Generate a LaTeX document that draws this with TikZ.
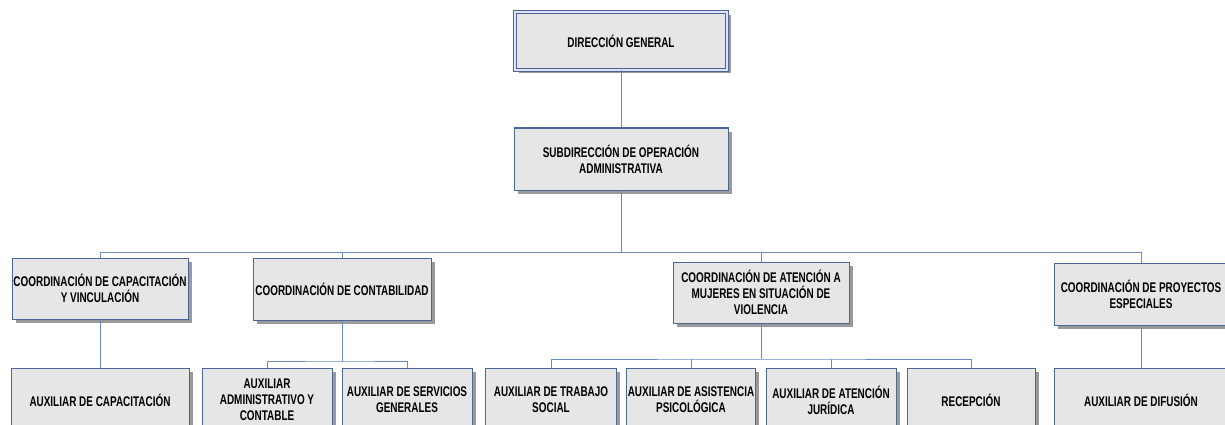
\documentclass[tikz,border=0pt]{standalone}
\usepackage{fontspec}
\setmainfont{Liberation Sans}[FakeStretch=0.71]
\usetikzlibrary{shadows}
\definecolor{bordc}{HTML}{4A6796}
\definecolor{linec}{HTML}{6A8CC0}
\definecolor{boxfill}{HTML}{E6E6E6}
\definecolor{shadc}{HTML}{9A9A9A}
\tikzset{
  orgbox/.style={draw=bordc, line width=1pt, fill=boxfill, align=center,
    inner sep=1pt, font=\fontsize{14}{16}\selectfont\bfseries,
    drop shadow={shadow xshift=3.5pt, shadow yshift=-3.5pt, fill=shadc, opacity=1}},
  topbox/.style={orgbox, double=blue!12!white, double distance=1.6pt},
  conn/.style={draw=linec, line width=1pt}
}
\begin{document}
\begin{tikzpicture}[x=1pt,y=-1pt]
\useasboundingbox (0,0) rectangle (1225,425);
\begin{scope}
\clip (0,0) rectangle (1225,425);
% level 0/1
\node[topbox, minimum width=212pt, minimum height=58pt] (dg) at (621,41) {DIRECCIÓN GENERAL};
\node[orgbox, minimum width=214pt, minimum height=62pt] (sub) at (621,159) {SUBDIRECCIÓN DE OPERACIÓN\\ADMINISTRATIVA};
% level 2
\node[orgbox, minimum width=176pt, minimum height=61pt] (c1) at (100,288.5) {COORDINACIÓN DE CAPACITACIÓN\\Y VINCULACIÓN};
\node[orgbox, minimum width=178pt, minimum height=62pt] (c2) at (342,289) {COORDINACIÓN DE CONTABILIDAD};
\node[orgbox, minimum width=176pt, minimum height=61pt] (c3) at (761,292.5) {COORDINACIÓN DE ATENCIÓN A\\MUJERES EN SITUACIÓN DE\\VIOLENCIA};
\node[orgbox, minimum width=174pt, minimum height=62pt] (c4) at (1141,294) {COORDINACIÓN DE PROYECTOS\\ESPECIALES};
% level 3
\node[orgbox, minimum width=178pt, minimum height=64pt] (a1) at (100,400) {AUXILIAR DE CAPACITACIÓN};
\node[orgbox, minimum width=130pt, minimum height=64pt] (a2) at (267,400) {AUXILIAR\\ADMINISTRATIVO Y\\CONTABLE};
\node[orgbox, minimum width=130pt, minimum height=64pt] (a3) at (407,400) {AUXILIAR DE SERVICIOS\\GENERALES};
\node[orgbox, minimum width=131pt, minimum height=64pt] (a4) at (551,400) {AUXILIAR DE TRABAJO\\SOCIAL};
\node[orgbox, minimum width=129pt, minimum height=64pt] (a5) at (691,400) {AUXILIAR DE ASISTENCIA\\PSICOLÓGICA};
\node[orgbox, minimum width=130pt, minimum height=64pt] (a6) at (831,400) {AUXILIAR DE ATENCIÓN\\JURÍDICA};
\node[orgbox, minimum width=128pt, minimum height=64pt] (a7) at (971,400) {RECEPCIÓN};
\node[orgbox, minimum width=174pt, minimum height=64pt] (a8) at (1141,400) {AUXILIAR DE DIFUSIÓN};
% connectors
\coordinate (bus) at (621,252.5);
\coordinate (busb) at (342,361);
\coordinate (busc) at (761,359);
\draw[conn] (dg.south) -- (sub.north);
\draw[conn] (sub.south) -- (bus);
\draw[conn] (c1.north) |- (bus) -| (c4.north);
\draw[conn] (c2.north) -- (c2.north |- bus);
\draw[conn] (c3.north) -- (c3.north |- bus);
\draw[conn] (c1.south) -- (a1.north);
\draw[conn] (c2.south) -- (busb);
\draw[conn] (a2.north) |- (busb) -| (a3.north);
\draw[conn] (c3.south) -- (busc);
\draw[conn] (a4.north) |- (busc) -| (a7.north);
\draw[conn] (a5.north) -- (a5.north |- busc);
\draw[conn] (a6.north) -- (a6.north |- busc);
\draw[conn] (c4.south) -- (a8.north);
\end{scope}
\end{tikzpicture}
\end{document}
